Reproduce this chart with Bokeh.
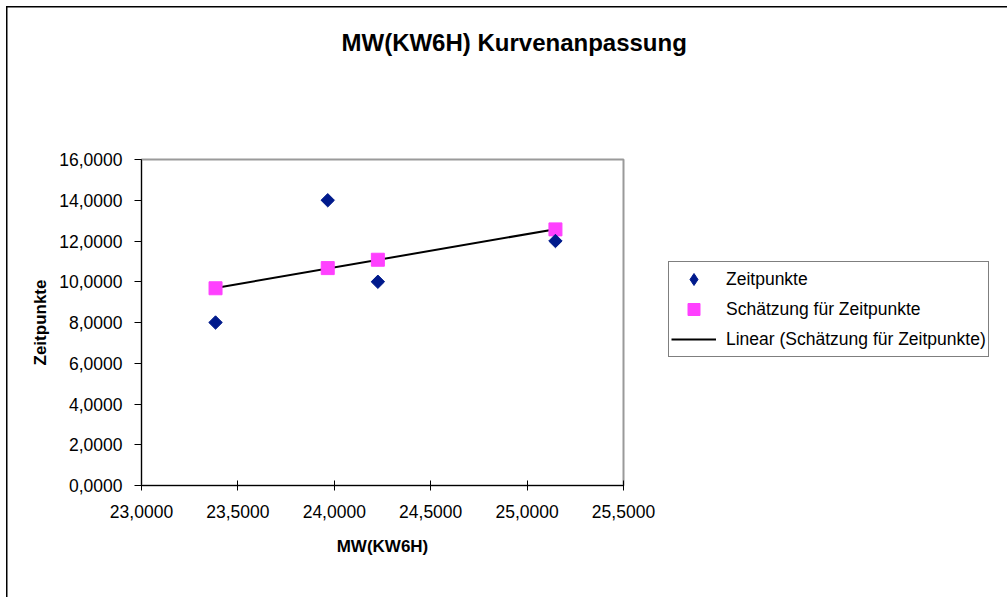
import numpy as np
from bokeh.plotting import figure
from bokeh.layouts import row
from bokeh.models import (Range1d, FixedTicker, CustomJSTickFormatter, Legend, LegendItem, Title)
from bokeh.embed import file_html
from bokeh.resources import INLINE

# Data
mw_x = [23.384, 23.966, 24.226, 25.147]
zeitpunkte = [8.0, 14.0, 10.0, 12.0]
schaetzung = [9.68, 10.67, 11.08, 12.57]
x_ticks = [23.0, 23.5, 24.0, 24.5, 25.0, 25.5]
y_ticks = [0, 2, 4, 6, 8, 10, 12, 14, 16]
series_names = ["Zeitpunkte", "Schätzung für Zeitpunkte", "Linear (Schätzung für Zeitpunkte)"]

FONT = "Liberation Sans"
NAVY = "#001a8c"
PINK = "#ff40ff"

p = figure(width=1007, height=597, output_backend="svg", toolbar_location=None,
           x_range=Range1d(23.0, 25.5), y_range=Range1d(0, 16),
           min_border_left=141, min_border_right=384, min_border_top=159, min_border_bottom=112)

p.background_fill_color = "white"
p.border_fill_alpha = 0
p.outline_line_color = "#9a9a9a"
p.outline_line_width = 2
p.xgrid.visible = False
p.ygrid.visible = False
p.styles = {"box-shadow": "inset 6px 6px 0 0 white, inset 7.5px 7.5px 0 0 black",
            "background-color": "white"}

p.title.text = "MW(KW6H) Kurvenanpassung"
p.title.text_font = FONT
p.title.text_font_style = "bold"
p.title.text_font_size = "24px"
p.title.text_color = "black"
p.title.align = "left"
p.title.offset = 200
p.title.standoff = 10
# spacer between title and plot frame
p.add_layout(Title(text=" ", text_font_size="1px", standoff=96), "above")

fmt = CustomJSTickFormatter(code="return tick.toFixed(4).replace('.', ',');")

xa = p.xaxis[0]
xa.ticker = FixedTicker(ticks=x_ticks)
xa.formatter = fmt
xa.major_tick_in = 5
xa.major_tick_out = 5
xa.minor_tick_line_color = None
xa.major_label_standoff = 14
xa.major_label_text_font = FONT
xa.major_label_text_font_size = "17.5px"
xa.major_label_text_color = "black"
xa.axis_label = "MW(KW6H)"
xa.axis_label_text_font = FONT
xa.axis_label_text_font_style = "bold"
xa.axis_label_text_font_size = "17px"
xa.axis_label_text_color = "black"
xa.axis_label_standoff = 16
xa.axis_line_color = "black"
xa.major_tick_line_color = "black"

ya = p.yaxis[0]
ya.ticker = FixedTicker(ticks=y_ticks)
ya.formatter = fmt
ya.major_tick_in = 0
ya.major_tick_out = 7
ya.minor_tick_line_color = None
ya.major_label_standoff = 12
ya.major_label_text_font = FONT
ya.major_label_text_font_size = "17.5px"
ya.major_label_text_color = "black"
ya.axis_label = "Zeitpunkte"
ya.axis_label_text_font = FONT
ya.axis_label_text_font_style = "bold"
ya.axis_label_text_font_size = "17px"
ya.axis_label_text_color = "black"
ya.axis_label_standoff = 6
ya.axis_line_color = "black"
ya.major_tick_line_color = "black"

# Linear trend line of the estimates
coef = np.polyfit(mw_x, schaetzung, 1)
tx = [min(mw_x), max(mw_x)]
ty = [coef[0] * v + coef[1] for v in tx]
p.line(tx, ty, line_color="black", line_width=2)
p.scatter(mw_x, schaetzung, marker="square", size=13, fill_color=PINK, line_color=PINK)
p.scatter(mw_x, zeitpunkte, marker="square", angle=np.pi / 4, size=9.5,
          fill_color=NAVY, line_color=NAVY)

# Legend panel (a transparent figure laid over the right part of the chart)
p2 = figure(width=384, height=597, output_backend="svg", toolbar_location=None,
            title=None, x_axis_type=None, y_axis_type=None,
            x_range=Range1d(0, 1), y_range=Range1d(0, 1), min_border=0)
p2.outline_line_color = None
p2.background_fill_alpha = 0
p2.border_fill_alpha = 0
p2.xgrid.visible = False
p2.ygrid.visible = False
p2.styles = {"margin-left": "-384px"}

l_dia = p2.scatter(mw_x, zeitpunkte, marker="diamond", fill_color=NAVY, line_color=NAVY)
l_sq = p2.scatter(mw_x, schaetzung, marker="square", fill_color=PINK, line_color=PINK)
l_line = p2.line(tx, ty, line_color="black", line_width=2)

legend = Legend(items=[
    LegendItem(label=series_names[0], renderers=[l_dia]),
    LegendItem(label=series_names[1], renderers=[l_sq]),
    LegendItem(label=series_names[2], renderers=[l_line]),
], location=(45, 128))
legend.border_line_color = "black"
legend.border_line_width = 1
legend.background_fill_color = "white"
legend.background_fill_alpha = 1
legend.label_text_font = FONT
legend.label_text_font_size = "17.5px"
legend.label_text_color = "black"
legend.glyph_width = 45
legend.glyph_height = 30
legend.label_height = 30
legend.label_standoff = 10
legend.padding = 2
legend.spacing = 0
legend.margin = 0
p2.add_layout(legend)

layout = row(p, p2)
open("out.html", "w").write(file_html(layout, INLINE))
